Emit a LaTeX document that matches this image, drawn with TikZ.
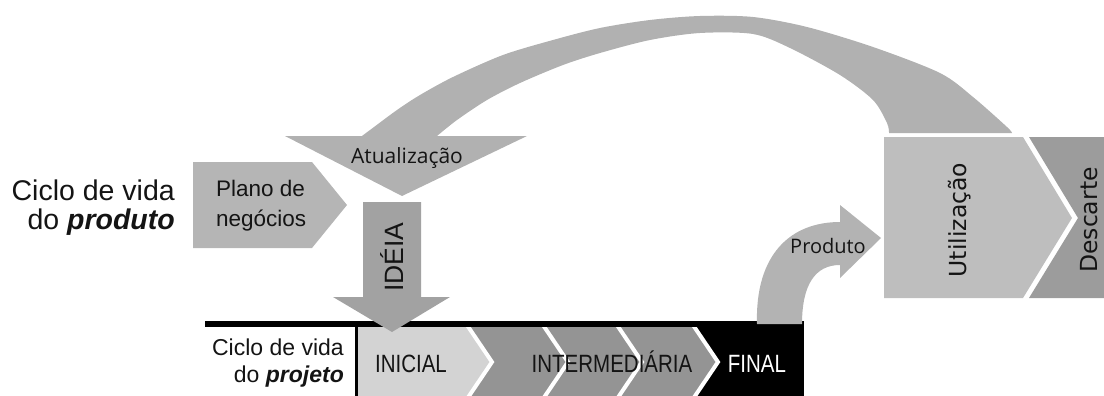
\documentclass[tikz,border=0pt]{standalone}
\usepackage{fontspec}
\setmainfont{Liberation Sans}
\newfontfamily\narrowfont[FakeStretch=0.82]{Liberation Sans}
\newfontfamily\opensans{Open Sans}
\newfontfamily\dejavu{DejaVu Sans}
\definecolor{archgray}{HTML}{B1B1B1}
\definecolor{planogray}{HTML}{B5B5B5}
\definecolor{ideiagray}{HTML}{A2A2A2}
\definecolor{produtogray}{HTML}{B3B3B3}
\definecolor{utilgray}{HTML}{BEBEBE}
\definecolor{descgray}{HTML}{9C9C9C}
\definecolor{inicialgray}{HTML}{D3D3D3}
\definecolor{intergray}{HTML}{949494}
\definecolor{txtgray}{HTML}{141414}
\begin{document}
\begin{tikzpicture}
	[	x=1pt,y=-1pt,
	txt/.style={inner sep=0pt,text=txtgray},
	bartext/.style={txt,anchor=base,font=\narrowfont\fontsize{25}{25}\selectfont},
	sidetext/.style={txt,rotate=90,font=\dejavu\fontsize{23.5}{23.5}\selectfont},
	whiteline/.style={draw=white,line width=4pt}
	]
	\useasboundingbox (0,0) rectangle (1104,396);

	\node[txt,anchor=east,align=right,font=\fontsize{28.5}{29}\selectfont] (cicloproduto) at (175,208) {Ciclo de vida\\do \textbf{\textit{produto}}};

	\fill[planogray] (193,162) -- (312,162) -- (347,205) -- (312,248) -- (193,248) -- cycle;
	\node[txt,anchor=west,align=left,font=\fontsize{22.5}{30}\selectfont] (plano) at (216,205.5) {Plano de\\negócios};

	\fill[archgray] plot[smooth] coordinates {(362,136) (370,130) (397,110) (420,95) (453,77) (503,55) (553,40) (600,28) (650,20) (700,16) (753,17) (807,27) (873,47) (940,73) (973,97) (1007,127) (1012,133)}
		-- plot[smooth] coordinates {(889,133) (887,123) (873,100) (840,75) (790,48) (753,34) (700,33) (650,40) (600,53) (563,65) (520,83) (487,100) (457,120) (437,136)}
		-- (527,136) -- (402,196) -- (285,136) -- cycle;
	\node[txt,anchor=base,font=\opensans\fontsize{21}{21}\selectfont] (atualizacao) at (407,163) {Atualização};

	\fill[black] (205,321) rectangle (804,327);
	\fill[black] (355,321) rectangle (804,396);
	\fill[intergray] (358,327) -- (693,327) -- (718,362) -- (693,396) -- (358,396) -- cycle;
	\fill[inicialgray] (358,327) -- (467,327) -- (492,362) -- (467,396) -- (358,396) -- cycle;
	\begin{scope}
		\clip (358,327) rectangle (804,396);
		\foreach \x in {467,543,617,693}
			\draw[whiteline] (\x,325) -- (\x+25,362) -- (\x,399);
	\end{scope}
	\node[txt,anchor=east,align=right,font=\fontsize{23}{27}\selectfont] (cicloprojeto) at (344,363) {Ciclo de vida\\do \textbf{\textit{projeto}}};
	\node[bartext] (inicial) at (411,372) {INICIAL};
	\node[bartext] (intermediaria) at (612,372) {INTERMEDIÁRIA};
	\node[bartext,text=white] (final) at (757,372) {FINAL};

	\fill[ideiagray] (363,202) -- (421,202) -- (421,297) -- (450,297) -- (392,332) -- (333,297) -- (363,297) -- cycle;
	\node[txt,anchor=base,rotate=90,font=\fontsize{26.5}{26.5}\selectfont] (ideia) at (403,257) {IDÉIA};

	\fill[produtogray] (757,324) .. controls (755,255) and (790,222) .. (840,222) -- (840,205) -- (881,238)
		-- (840,278) -- (840,265) .. controls (815,265) and (802,285) .. (802,324) -- cycle;
	\node[txt,anchor=base,font=\opensans\fontsize{20}{20}\selectfont] (produto) at (828,253) {Produto};

	\fill[utilgray] (884,137) -- (1023,137) -- (1072,218) -- (1023,298) -- (884,298) -- cycle;
	\fill[descgray] (1029,137) -- (1104,137) -- (1104,298) -- (1029,298) -- (1078,218) -- cycle;
	\node[sidetext] (utilizacao) at (960,220) {Utilização};
	\node[sidetext] (descarte) at (1089,220) {Descarte};
\end{tikzpicture}
\end{document}
